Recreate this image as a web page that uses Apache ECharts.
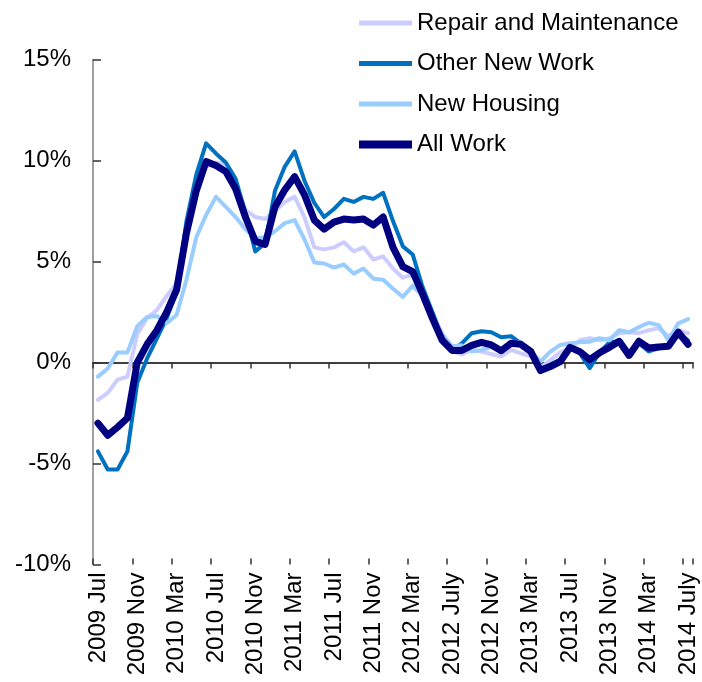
<!DOCTYPE html>
<html>
<head>
<meta charset="utf-8">
<script src="https://cdn.jsdelivr.net/npm/echarts@6/dist/echarts.min.js"></script>
<style>
  html, body { margin: 0; padding: 0; background: #fff; }
  #chart { width: 702px; height: 682px; }
</style>
</head>
<body>
<div id="chart"></div>
<script>
// monthly, 2009 Jul .. 2014 Jul
var months = [
    '2009 Jul', '2009 Aug', '2009 Sep', '2009 Oct', '2009 Nov', '2009 Dec',
    '2010 Jan', '2010 Feb', '2010 Mar', '2010 Apr', '2010 May', '2010 Jun',
    '2010 Jul', '2010 Aug', '2010 Sep', '2010 Oct', '2010 Nov', '2010 Dec',
    '2011 Jan', '2011 Feb', '2011 Mar', '2011 Apr', '2011 May', '2011 Jun',
    '2011 Jul', '2011 Aug', '2011 Sep', '2011 Oct', '2011 Nov', '2011 Dec',
    '2012 Jan', '2012 Feb', '2012 Mar', '2012 Apr', '2012 May', '2012 Jun',
    '2012 July', '2012 Aug', '2012 Sep', '2012 Oct', '2012 Nov', '2012 Dec',
    '2013 Jan', '2013 Feb', '2013 Mar', '2013 Apr', '2013 May', '2013 Jun',
    '2013 Jul', '2013 Aug', '2013 Sep', '2013 Oct', '2013 Nov', '2013 Dec',
    '2014 Jan', '2014 Feb', '2014 Mar', '2014 Apr', '2014 May', '2014 Jun',
    '2014 July'
];

var repairMaintenance = [
    -1.85, -1.5, -0.85, -0.7, 1.4, 2.2, 2.6, 3.3, 3.9, 6.3,
    8.6, 9.7, 9.9, 9.8, 8.9, 7.55, 7.2, 7.1, 7.5, 7.95,
    8.2, 7.2, 5.7, 5.6, 5.7, 5.95, 5.5, 5.7, 5.1, 5.25,
    4.65, 4.2, 4.35, 3.6, 2.5, 1.4, 0.55, 0.4, 0.62, 0.54,
    0.42, 0.3, 0.62, 0.45, 0.3, -0.25, 0.12, 0.5, 0.7, 1.1,
    1.2, 1.1, 1.2, 1.45, 1.5, 1.45, 1.6, 1.7, 1.3, 1.6,
    1.45
];

var otherNewWork = [
    -4.4, -5.3, -5.3, -4.4, -1.0, 0.2, 1.2, 2.2, 3.5, 7.0,
    9.3, 10.85, 10.35, 9.9, 9.1, 7.4, 5.5, 5.9, 8.5, 9.7,
    10.45, 9.0, 7.9, 7.2, 7.6, 8.1, 7.95, 8.2, 8.1, 8.4,
    7.0, 5.75, 5.35, 3.75, 2.5, 1.2, 0.6, 0.95, 1.45, 1.55,
    1.5, 1.25, 1.3, 0.95, 0.55, -0.3, -0.1, 0.15, 0.7, 0.45,
    -0.28, 0.5, 1.0, 1.05, 0.5, 0.95, 0.55, 0.7, 0.8, 1.45,
    1.1
];

var newHousing = [
    -0.7, -0.3, 0.5, 0.5, 1.8, 2.25, 2.3, 1.95, 2.35, 4.1,
    6.2, 7.3, 8.2, 7.7, 7.2, 6.6, 6.15, 6.2, 6.5, 6.9,
    7.05, 6.1, 4.95, 4.9, 4.7, 4.85, 4.4, 4.65, 4.15, 4.1,
    3.65, 3.25, 3.8, 3.3, 2.3, 1.4, 0.8, 0.85, 0.55, 0.62,
    0.78, 0.54, 1.03, 1.0, 0.55, 0.05, 0.54, 0.87, 0.95, 1.0,
    1.03, 1.2, 1.1, 1.6, 1.5, 1.75, 1.97, 1.85, 1.1, 1.94,
    2.15
];

var allWork = [
    -3.0, -3.6, -3.2, -2.75, 0.0, 0.9, 1.6, 2.5, 3.6, 6.4,
    8.5, 9.95, 9.75, 9.45, 8.6, 7.2, 6.0, 5.85, 7.7, 8.55,
    9.2, 8.3, 7.05, 6.6, 6.95, 7.1, 7.05, 7.1, 6.8, 7.2,
    5.7, 4.75, 4.5, 3.4, 2.2, 1.1, 0.6, 0.6, 0.85, 1.0,
    0.87, 0.58, 0.95, 0.9, 0.55, -0.4, -0.2, 0.04, 0.75, 0.54,
    0.14, 0.48, 0.75, 1.05, 0.35, 1.05, 0.72, 0.77, 0.8, 1.5,
    0.9
];

var FONT = '"Liberation Sans", Arial, sans-serif';

// legend icon: a horizontal bar of given thickness inside a 53x24 box
function barIcon(t) {
    var y0 = 12 - t / 2, y1 = 12 + t / 2;
    return 'path://M0,0 L0,0 Z M0,' + y0 + ' L53,' + y0 + ' L53,' + y1 + ' L0,' + y1 + ' Z M0,24 L0,24 Z';
}

function lineSeries(name, data, color, width) {
    return {
        name: name,
        type: 'line',
        data: data,
        symbol: 'none',
        showSymbol: false,
        xAxisIndex: 0,
        yAxisIndex: 0,
        lineStyle: { color: color, width: width, cap: 'round', join: 'round' },
        itemStyle: { color: color },
        emphasis: { disabled: true }
    };
}

var chart = echarts.init(document.getElementById('chart'));
var option = {
    animation: false,
    backgroundColor: '#ffffff',
    textStyle: { fontFamily: FONT },
    grid: { left: 93, right: 9, top: 59.5, bottom: 117.5, containLabel: false },
    legend: {
        orient: 'vertical',
        left: 354,
        top: 6,
        padding: 5,
        itemWidth: 53,
        itemHeight: 24,
        itemGap: 16.5,
        itemStyle: { borderWidth: 0 },
        textStyle: { fontSize: 24, color: '#000', fontFamily: FONT },
        data: [
            { name: 'Repair and Maintenance', icon: barIcon(5) },
            { name: 'Other New Work', icon: barIcon(5) },
            { name: 'New Housing', icon: barIcon(5) },
            { name: 'All Work', icon: barIcon(8) }
        ]
    },
    xAxis: [
        {
            // axis line + ticks sitting on 0%
            type: 'category',
            data: months,
            boundaryGap: true,
            axisLine: { onZero: true, lineStyle: { color: '#000', width: 1.5 } },
            axisTick: { show: true, interval: 3, length: 6, lineStyle: { color: '#333', width: 1.5 } },
            axisLabel: { show: false },
            splitLine: { show: false }
        },
        {
            // labels at the bottom of the plot
            type: 'category',
            data: months,
            position: 'bottom',
            boundaryGap: true,
            axisLine: { show: false, onZero: false },
            axisTick: { show: false },
            axisLabel: {
                interval: 3,
                rotate: 90,
                margin: 8,
                fontSize: 24,
                color: '#000',
                fontFamily: FONT
            },
            splitLine: { show: false }
        },
        {
            // upper half of the crossing ticks
            type: 'category',
            data: months,
            position: 'bottom',
            boundaryGap: true,
            axisLine: { show: false, onZero: true },
            axisTick: { show: true, inside: true, interval: 3, length: 6, lineStyle: { color: '#333', width: 1.5 } },
            axisLabel: { show: false },
            splitLine: { show: false }
        }
    ],
    yAxis: {
        type: 'value',
        min: -10,
        max: 15,
        interval: 5,
        axisLine: { show: true, lineStyle: { color: '#808080', width: 1.5 } },
        axisTick: { show: true, inside: true, length: 8, lineStyle: { color: '#333', width: 1.5 } },
        axisLabel: {
            formatter: '{value}%',
            fontSize: 24,
            color: '#000',
            margin: 22,
            fontFamily: FONT
        },
        splitLine: { show: false }
    },
    series: [
        lineSeries('Repair and Maintenance', repairMaintenance, '#ccccff', 4),
        lineSeries('Other New Work', otherNewWork, '#0070c0', 4),
        lineSeries('New Housing', newHousing, '#99ccff', 4),
        lineSeries('All Work', allWork, '#000080', 7)
    ]
};
chart.setOption(option);
</script>
</body>
</html>
